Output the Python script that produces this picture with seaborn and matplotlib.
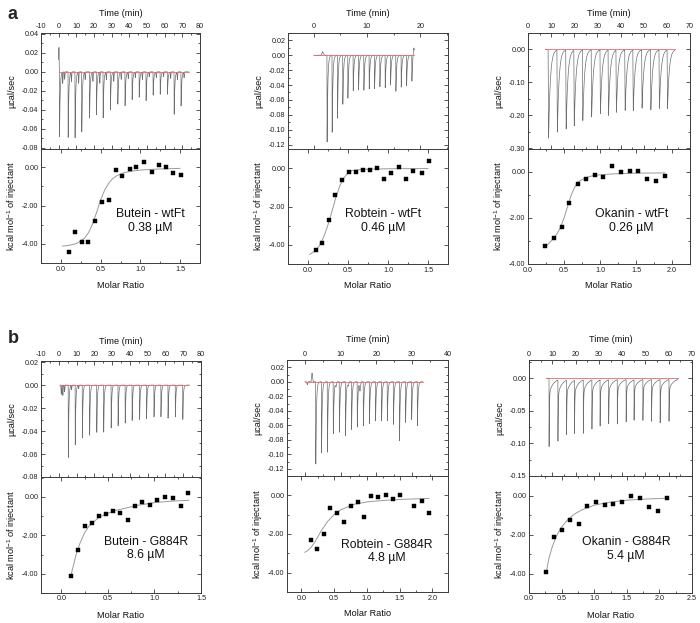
import numpy as np
import pandas as pd
import matplotlib
matplotlib.use("Agg")
import matplotlib.pyplot as plt
import seaborn as sns
from matplotlib.ticker import MultipleLocator, FuncFormatter

sns.set_theme(style="ticks")
plt.rcParams['font.family'] = ['Liberation Sans', 'DejaVu Sans']
plt.rcParams['axes.unicode_minus'] = False
plt.rcParams['mathtext.fontset'] = 'custom'
plt.rcParams['mathtext.rm'] = 'Liberation Sans'

# ---- raw heat traces: injection time (min) and peak minimum (ucal/sec) ----
butein_wt_t = [0.4, 5.3, 9.2, 13.0, 17.4, 21.3, 25.1, 29.2, 33.4, 37.5, 41.5, 45.5, 49.4, 53.4, 57.4, 61.5, 65.3, 69.2]
butein_wt_dip = [-0.069, -0.070, -0.070, -0.065, -0.050, -0.046, -0.049, -0.041, -0.035, -0.036,
                 -0.030, -0.027, -0.031, -0.025, -0.024, -0.024, -0.045, -0.037]

robtein_wt_t = [2.5, 3.45, 4.45, 5.45, 6.4, 7.4, 8.4, 9.4, 10.4, 11.4, 12.4, 13.4, 14.4, 15.4, 16.4, 17.4, 18.4]
robtein_wt_dip = [-0.117, -0.105, -0.085, -0.067, -0.058, -0.048, -0.047, -0.047, -0.046, -0.045,
                  -0.043, -0.044, -0.040, -0.049, -0.043, -0.042, -0.035]

okanin_wt_t = [8.7, 12.5, 16.3, 19.8, 23.5, 27.3, 31.1, 34.6, 38.0, 41.8, 45.3, 49.1, 52.9, 56.6, 60.1]
okanin_wt_dip = [-0.270, -0.250, -0.240, -0.230, -0.215, -0.205, -0.195, -0.200, -0.190, -0.185,
                 -0.185, -0.178, -0.183, -0.178, -0.178]

butein_mut_t = [5.3, 9.2, 13.2, 17.3, 21.3, 25.2, 29.4, 33.3, 37.3, 41.2, 45.4, 49.3, 53.5, 57.4, 61.4, 65.5, 69.7]
butein_mut_dip = [-0.064, -0.053, -0.046, -0.044, -0.042, -0.041, -0.038, -0.036, -0.034, -0.031,
                  -0.030, -0.030, -0.028, -0.028, -0.029, -0.028, -0.030]

robtein_mut_t = [3.0, 4.6, 6.25, 7.9, 9.6, 11.3, 13.0, 14.6, 16.3, 18.0, 19.7, 21.4, 23.0, 24.7, 26.4, 28.1, 29.8, 31.4]
robtein_mut_dip = [-0.115, -0.100, -0.099, -0.073, -0.071, -0.076, -0.067, -0.064, -0.062, -0.059,
                   -0.055, -0.055, -0.055, -0.060, -0.083, -0.057, -0.053, -0.062]

okanin_mut_t = [8.6, 12.4, 16.1, 19.5, 23.3, 27.0, 30.5, 34.2, 37.9, 41.7, 45.1, 48.9, 52.6, 56.3, 60.1]
okanin_mut_dip = [-0.105, -0.097, -0.087, -0.085, -0.083, -0.077, -0.074, -0.070, -0.068, -0.067,
                  -0.064, -0.063, -0.065, -0.068, -0.066]

# small excursions in the raw traces (time, height)
butein_wt_bumps = [(0.15, 0.026), (2.3, -0.012), (3.4, -0.008), (7.2, -0.010), (11.3, -0.012),
                   (15.0, -0.008), (19.4, -0.010), (23.3, -0.012), (27.0, -0.008), (31.2, -0.010),
                   (35.4, -0.008), (39.4, -0.007), (43.4, -0.006), (47.4, -0.008), (51.3, -0.005),
                   (55.3, -0.006), (59.4, -0.005), (63.4, -0.007), (67.2, -0.008), (71.0, -0.006)]
robtein_wt_bumps = [(1.7, 0.005), (18.8, 0.012)]
butein_mut_bumps = [(1.4, -0.008), (2.3, -0.009), (3.3, -0.006), (7.2, -0.004), (11.2, -0.003)]
robtein_mut_bumps = [(2.0, 0.012), (0.7, -0.004), (15.4, -0.012), (8.7, -0.006), (12.1, -0.005)]

# ---- integrated heats: molar ratio vs kcal/mol of injectant ----
butein_wt_mr = [0.096, 0.18, 0.264, 0.343, 0.43, 0.515, 0.60, 0.69, 0.774, 0.866, 0.95, 1.04, 1.14, 1.23, 1.32, 1.41, 1.51]
butein_wt_dh = [-4.43, -3.39, -3.90, -3.90, -2.79, -1.82, -1.71, -0.14, -0.47, -0.10, 0.02, 0.29, -0.23, 0.12, 0.03, -0.31, -0.42]
butein_wt_fit_mr = [0.02, 0.1, 0.2, 0.3, 0.35, 0.4, 0.45, 0.5, 0.55, 0.6, 0.65, 0.7, 0.8, 0.9, 1.0, 1.2, 1.5]
butein_wt_fit_dh = [-4.12, -4.08, -3.98, -3.7, -3.4, -2.95, -2.35, -1.7, -1.2, -0.85, -0.6, -0.45, -0.28, -0.2, -0.15, -0.1, -0.06]

robtein_wt_mr = [0.096, 0.18, 0.26, 0.34, 0.43, 0.51, 0.60, 0.69, 0.77, 0.86, 0.95, 1.04, 1.14, 1.22, 1.31, 1.42, 1.51]
robtein_wt_dh = [-4.28, -3.88, -2.71, -1.41, -0.61, -0.21, -0.21, -0.10, -0.10, 0.0, -0.57, -0.23, 0.05, -0.57, -0.14, -0.26, 0.38]
robtein_wt_fit_mr = [0.02, 0.1, 0.15, 0.2, 0.25, 0.3, 0.35, 0.4, 0.45, 0.5, 0.55, 0.7, 1.0, 1.5]
robtein_wt_fit_dh = [-4.5, -4.3, -4.0, -3.55, -2.95, -2.25, -1.5, -0.9, -0.5, -0.25, -0.12, -0.06, -0.03, -0.02]

okanin_wt_mr = [0.243, 0.355, 0.467, 0.575, 0.69, 0.81, 0.925, 1.04, 1.16, 1.285, 1.41, 1.53, 1.65, 1.78, 1.9]
okanin_wt_dh = [-3.23, -2.89, -2.38, -1.33, -0.505, -0.29, -0.13, -0.2, 0.245, 0.014, 0.03, 0.03, -0.3, -0.375, -0.16]
okanin_wt_fit_mr = [0.24, 0.3, 0.35, 0.4, 0.45, 0.5, 0.55, 0.6, 0.65, 0.7, 0.8, 0.9, 1.0, 1.2, 1.5, 1.9]
okanin_wt_fit_dh = [-3.25, -3.07, -2.9, -2.7, -2.42, -2.0, -1.5, -1.0, -0.65, -0.42, -0.25, -0.16, -0.12, -0.08, -0.05, -0.04]

butein_mut_mr = [0.104, 0.176, 0.25, 0.327, 0.40, 0.48, 0.557, 0.633, 0.71, 0.79, 0.87, 0.953, 1.03, 1.115, 1.198, 1.28, 1.363]
butein_mut_dh = [-4.12, -2.78, -1.51, -1.34, -0.98, -0.89, -0.74, -0.82, -1.22, -0.48, -0.29, -0.43, -0.155, 0.0, -0.05, -0.48, 0.19]
butein_mut_fit_mr = [0.1, 0.13, 0.16, 0.2, 0.25, 0.3, 0.4, 0.5, 0.6, 0.8, 1.0, 1.2, 1.37]
butein_mut_fit_dh = [-4.1, -3.55, -2.95, -2.4, -1.85, -1.5, -1.08, -0.85, -0.69, -0.46, -0.3, -0.22, -0.18]

robtein_mut_mr = [0.143, 0.245, 0.342, 0.444, 0.546, 0.653, 0.755, 0.862, 0.964, 1.071, 1.178, 1.286, 1.393, 1.505, 1.724, 1.842, 1.954]
robtein_mut_dh = [-2.31, -2.79, -1.98, -0.67, -0.90, -1.36, -0.55, -0.33, -1.12, -0.05, -0.09, 0.0, -0.19, 0.02, -0.53, -0.31, -0.90]
robtein_mut_fit_mr = [0.05, 0.1, 0.15, 0.2, 0.25, 0.3, 0.4, 0.5, 0.6, 0.8, 1.0, 1.3, 1.6, 1.95]
robtein_mut_fit_dh = [-2.95, -2.85, -2.68, -2.45, -2.15, -1.85, -1.35, -1.0, -0.75, -0.47, -0.34, -0.25, -0.2, -0.16]

okanin_mut_mr = [0.258, 0.387, 0.51, 0.634, 0.763, 0.892, 1.03, 1.16, 1.29, 1.43, 1.567, 1.706, 1.845, 1.985, 2.124]
okanin_mut_dh = [-3.90, -2.12, -1.78, -1.24, -1.46, -0.56, -0.32, -0.49, -0.46, -0.31, -0.02, -0.14, -0.59, -0.78, -0.15]
okanin_mut_fit_mr = [0.27, 0.3, 0.35, 0.4, 0.45, 0.5, 0.6, 0.7, 0.8, 1.0, 1.2, 1.5, 1.8, 2.12]
okanin_mut_fit_dh = [-3.85, -3.3, -2.7, -2.25, -1.9, -1.62, -1.22, -0.95, -0.75, -0.5, -0.36, -0.24, -0.18, -0.14]

names = ["Butein - wtFt", "Robtein - wtFt", "Okanin - wtFt",
         "Butein - G884R", "Robtein - G884R", "Okanin - G884R"]
kd_labels = ["0.38 µM", "0.46 µM", "0.26 µM", "8.6 µM", "4.8 µM", "5.4 µM"]

panels = [
    dict(t=butein_wt_t, dip=butein_wt_dip, bumps=butein_wt_bumps, span=(0.0, 73.5), tau=0.35, fast=1.0, tau2=1.0,
         mr=butein_wt_mr, dh=butein_wt_dh, fmr=butein_wt_fit_mr, fdh=butein_wt_fit_dh,
         box=(41, 200, 33, 149, 263), xl=(-10, 80), yl=(-0.0815, 0.041), ys=(0.02, 0.01),
         bxl=(-0.25, 1.75), byl=(-5, 0.95), bxs=(0.5, 0.25), txt=(1.12, -2.8)),
    dict(t=robtein_wt_t, dip=robtein_wt_dip, bumps=robtein_wt_bumps, span=(0.0, 18.9), tau=0.13, fast=1.0, tau2=1.0,
         mr=robtein_wt_mr, dh=robtein_wt_dh, fmr=robtein_wt_fit_mr, fdh=robtein_wt_fit_dh,
         box=(288, 448, 33, 149, 264), xl=(-4.8, 25.2), yl=(-0.126, 0.03), ys=(0.02, 0.01),
         bxl=(-0.25, 1.75), byl=(-5, 1.0), bxs=(0.5, 0.25), txt=(0.94, -2.75)),
    dict(t=okanin_wt_t, dip=okanin_wt_dip, bumps=[], span=(7.5, 63.5), tau=0.75, fast=1.0, tau2=1.0,
         mr=okanin_wt_mr, dh=okanin_wt_dh, fmr=okanin_wt_fit_mr, fdh=okanin_wt_fit_dh,
         box=(528, 690, 33, 149, 264), xl=(0, 70), yl=(-0.302, 0.05), ys=(0.1, 0.05),
         bxl=(0, 2.25), byl=(-4, 1.0), bxs=(0.5, 0.25), txt=(1.44, -2.13)),
    dict(t=butein_mut_t, dip=butein_mut_dip, bumps=butein_mut_bumps, span=(0.5, 73.5), tau=0.3, fast=1.0, tau2=1.0,
         mr=butein_mut_mr, dh=butein_mut_dh, fmr=butein_mut_fit_mr, fdh=butein_mut_fit_dh,
         box=(41, 201, 361, 477, 593), xl=(-10, 80), yl=(-0.08, 0.021), ys=(0.02, 0.01),
         bxl=(-0.22, 1.5), byl=(-5, 1.03), bxs=(0.5, 0.25), txt=(0.91, -2.7)),
    dict(t=robtein_mut_t, dip=robtein_mut_dip, bumps=robtein_mut_bumps, span=(0.0, 33.0), tau=0.18, fast=1.0, tau2=1.0,
         mr=robtein_mut_mr, dh=robtein_mut_dh, fmr=robtein_mut_fit_mr, fdh=robtein_mut_fit_dh,
         box=(287, 448, 360, 476, 592), xl=(-5, 40), yl=(-0.13, 0.03), ys=(0.02, 0.01),
         bxl=(-0.22, 2.24), byl=(-5, 1.0), bxs=(0.5, 0.25), txt=(1.31, -2.92)),
    dict(t=okanin_mut_t, dip=okanin_mut_dip, bumps=[], span=(7.5, 64.0), tau=0.12, fast=0.78, tau2=1.8,
         mr=okanin_mut_mr, dh=okanin_mut_dh, fmr=okanin_mut_fit_mr, fdh=okanin_mut_fit_dh,
         box=(529, 692, 360, 476, 593), xl=(0, 70), yl=(-0.15, 0.028), ys=(0.05, 0.025),
         bxl=(0, 2.5), byl=(-5, 1.0), bxs=(0.5, 0.25), txt=(1.49, -2.75)),
]


def thermogram(p):
    t = np.linspace(p['span'][0], p['span'][1], 6000)
    y = np.zeros_like(t)
    rise = p['tau'] * 0.25
    for ti, d in zip(p['t'], p['dip']):
        dt = t - ti
        after = np.clip(dt - rise, 0, None)
        decay = p['fast'] * np.exp(-after / p['tau']) + (1 - p['fast']) * np.exp(-after / p['tau2'])
        shape = np.where(dt < 0, 0.0, np.where(dt < rise, dt / rise, decay))
        y += d * shape
    for tb, h in p['bumps']:
        y += h * np.clip(1 - np.abs(t - tb) / 0.3, 0, None)
    return pd.DataFrame({'time': t, 'power': y})


W, H = 700, 623
fig = plt.figure(figsize=(7, 6.23), dpi=100)
fig.patch.set_facecolor('white')

fmt2 = FuncFormatter(lambda v, p: f"{round(v, 6) + 0.0:.2f}")
fmt1 = FuncFormatter(lambda v, p: f"{round(v, 6) + 0.0:.1f}")
fmt0 = FuncFormatter(lambda v, p: f"{int(round(v))}")

tick_fs = 5.2
lab_fs = 6.6
spine_c = '#3a3a3a'


def style(ax):
    for s in ax.spines.values():
        s.set_visible(True)
        s.set_color(spine_c)
        s.set_linewidth(0.7)
    ax.tick_params(which='both', direction='in', top=True, bottom=True, left=True, right=True,
                   colors=spine_c, labelcolor='#222222', labelsize=tick_fs, width=0.6, pad=1.8)
    ax.tick_params(which='major', length=2.8)
    ax.tick_params(which='minor', length=1.5)
    ax.set_facecolor('white')
    ax.grid(False)


for i, p in enumerate(panels):
    x0, x1, ytop, ymid, ybot = p['box']
    w = x1 - x0
    h_top = ymid - ytop
    h_bot = ybot - ymid
    ax_t = fig.add_axes([x0 / W, 1 - ymid / H, w / W, h_top / H])
    ax_b = fig.add_axes([x0 / W, 1 - ybot / H, w / W, h_bot / H])

    # raw trace
    raw = thermogram(p)
    sns.lineplot(data=raw, x='time', y='power', ax=ax_t, color='#6e6e6e', lw=0.5,
                 estimator=None, sort=False)
    base = pd.DataFrame({'time': [p['span'][0], p['span'][1]], 'power': [0.0, 0.0]})
    sns.lineplot(data=base, x='time', y='power', ax=ax_t, color='#e36b6b', lw=0.6,
                 estimator=None, sort=False)
    ax_t.set_xlim(*p['xl'])
    ax_t.set_ylim(*p['yl'])
    ax_t.xaxis.set_major_locator(MultipleLocator(10))
    ax_t.xaxis.set_minor_locator(MultipleLocator(5))
    ax_t.yaxis.set_major_locator(MultipleLocator(p['ys'][0]))
    ax_t.yaxis.set_minor_locator(MultipleLocator(p['ys'][1]))
    ax_t.xaxis.set_major_formatter(fmt0)
    ax_t.yaxis.set_major_formatter(fmt2)
    style(ax_t)
    ax_t.tick_params(labeltop=True, labelbottom=False)
    ax_t.xaxis.set_label_position('top')
    ax_t.set_xlabel('Time (min)', fontsize=lab_fs, color='#111111')
    ax_t.set_ylabel('µcal/sec', fontsize=lab_fs, color='#111111')
    ax_t.xaxis.set_label_coords(0.5, 1 + 20 / h_top)
    ax_t.xaxis.label.set_va('center')
    ax_t.yaxis.set_label_coords(-29 / w, 0.5)
    ax_t.yaxis.label.set_va('center')

    # integrated heats
    pts = pd.DataFrame({'mr': p['mr'], 'dh': p['dh']})
    fit = pd.DataFrame({'mr': p['fmr'], 'dh': p['fdh']})
    sns.lineplot(data=fit, x='mr', y='dh', ax=ax_b, color='#9a9a9a', lw=0.7,
                 estimator=None, sort=False)
    sns.scatterplot(data=pts, x='mr', y='dh', ax=ax_b, marker='s', s=11, color='black',
                    edgecolor='black', linewidth=0.3, zorder=3)
    ax_b.set_xlim(*p['bxl'])
    ax_b.set_ylim(*p['byl'])
    ax_b.xaxis.set_major_locator(MultipleLocator(p['bxs'][0]))
    ax_b.xaxis.set_minor_locator(MultipleLocator(p['bxs'][1]))
    ax_b.yaxis.set_major_locator(MultipleLocator(2))
    ax_b.yaxis.set_minor_locator(MultipleLocator(1))
    ax_b.xaxis.set_major_formatter(fmt1)
    ax_b.yaxis.set_major_formatter(fmt2)
    style(ax_b)
    ax_b.set_xlabel('Molar Ratio', fontsize=lab_fs, color='#111111')
    ax_b.set_ylabel('kcal mol$^{-1}$ of injectant', fontsize=lab_fs, color='#111111')
    ax_b.xaxis.set_label_coords(0.5, -22 / h_bot)
    ax_b.xaxis.label.set_va('center')
    ax_b.yaxis.set_label_coords(-29 / w, 0.5)
    ax_b.yaxis.label.set_va('center')
    ax_b.text(p['txt'][0], p['txt'][1], f"{names[i]}\n{kd_labels[i]}", fontsize=8.8,
              ha='center', va='center', color='#111111', linespacing=1.15)

fig.text(7 / W, 1 - 19 / H, 'a', fontsize=13, fontweight='bold', va='baseline', ha='left')
fig.text(8 / W, 1 - 343 / H, 'b', fontsize=13, fontweight='bold', va='baseline', ha='left')

fig.savefig('out.png', dpi=100, facecolor='white')
